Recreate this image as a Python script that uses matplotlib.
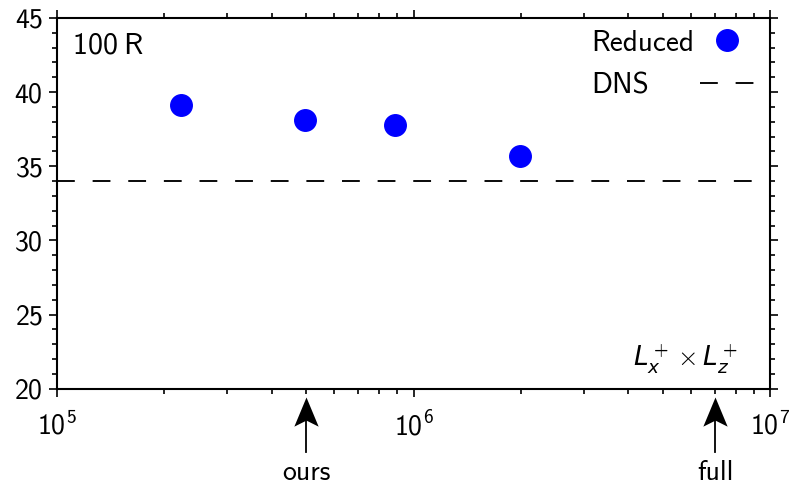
import numpy as np
import matplotlib
matplotlib.use('Agg')
import matplotlib.pyplot as plt
from matplotlib.path import Path

plt.rcParams['font.family'] = ['cmss10', 'DejaVu Sans']
plt.rcParams['mathtext.fontset'] = 'custom'
plt.rcParams['mathtext.rm'] = 'cmss10'
plt.rcParams['mathtext.it'] = 'DejaVu Sans:italic'
plt.rcParams['mathtext.sf'] = 'cmss10'
plt.rcParams['axes.formatter.use_mathtext'] = True

# box size Lx+ x Lz+ and the resulting value
box = np.array([2.23e5, 4.96e5, 8.87e5, 1.99e6])
val = np.array([39.1, 38.1, 37.8, 35.7])
dns = 34.0
arrow_x = [5.0e5, 7.0e6]
arrow_lbl = ['ours', 'full']

fig = plt.figure(figsize=(7.9, 4.86), dpi=100)
ax = fig.add_axes([0.072, 0.2, 0.903, 0.763])

ax.plot(box, val, 'o', color='blue', markersize=15.5, label='Reduced')
ax.axhline(dns, color='black', ls=(0, (9.5, 9.5)), lw=1.35, label='DNS')

ax.set_xscale('log')
ax.set_xlim(1e5, 1e7)
ax.set_ylim(20, 45)
ax.set_yticks([20, 25, 30, 35, 40, 45])
ax.set_yticks(np.arange(20, 45.1, 1), minor=True)

ax.tick_params(which='both', direction='out', top=True, right=True,
               labelsize=20, width=1.2)
ax.tick_params(which='major', length=6)
ax.tick_params(which='minor', length=3.5)
ax.tick_params(axis='x', pad=10)
ax.tick_params(axis='y', pad=4)
for s in ax.spines.values():
    s.set_linewidth(1.5)

ax.text(0.022, 0.925, '100\u2009R', transform=ax.transAxes, fontsize=21.5,
        va='center', ha='left')
ax.text(0.955, 0.08, r'$L_x^+ \times L_z^+$', transform=ax.transAxes,
        fontsize=19, va='center', ha='right')

# stealth arrow head, tip at origin
head = Path([(0, 0), (-0.5, -1.2), (0, -0.95), (0.5, -1.2), (0, 0)],
            [Path.MOVETO, Path.LINETO, Path.LINETO, Path.LINETO, Path.CLOSEPOLY])
xt = ax.get_xaxis_transform()
for xa, t in zip(arrow_x, arrow_lbl):
    ax.plot([xa, xa], [-0.17, -0.06], color='black', lw=1.3,
            transform=xt, clip_on=False)
    ax.plot([xa], [-0.0216], marker=head, markersize=42, color='black',
            mew=0, transform=xt, clip_on=False)
    ax.text(xa, -0.227, t, transform=xt, fontsize=20,
            ha='center', va='center')

leg = ax.legend(loc='upper right', bbox_to_anchor=(0.995, 1.0),
                frameon=False, markerfirst=False, fontsize=21,
                handlelength=1.9, handletextpad=0.2, borderaxespad=0.0,
                labelspacing=0.55)

# left-align the legend labels, keep the handles in one column on the right
fig.canvas.draw()
r = fig.canvas.get_renderer()
widths = [t.get_window_extent(r).width for t in leg.get_texts()]
rows = leg._legend_handle_box.get_children()[0].get_children()
for row, w in zip(rows, widths):
    row.sep += (max(widths) - w) * 72 / fig.dpi

fig.savefig('out.png', dpi=100)
